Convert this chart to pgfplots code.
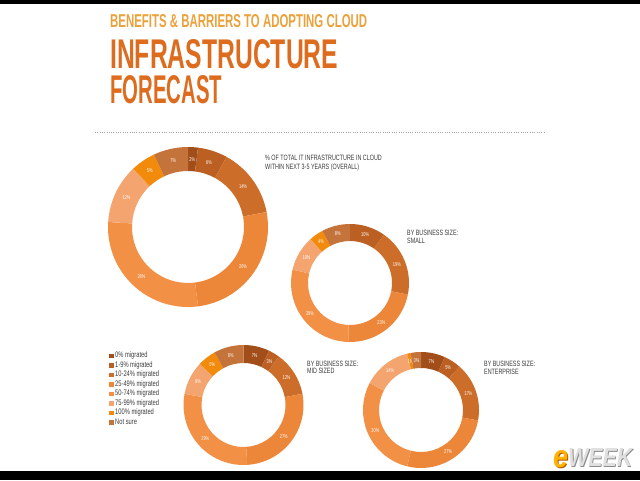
\documentclass[border=0pt]{standalone}
\usepackage{pgfplots}
\pgfplotsset{compat=1.18}
\usepackage{pgfplotstable}
\usepackage{graphicx}
\usepackage{fontspec}
\setmainfont{Liberation Sans}
\newfontfamily\cond[FakeStretch=0.7]{Liberation Sans}
\newfontfamily\condl[FakeStretch=0.72]{Liberation Sans}

\definecolor{c0}{HTML}{A24E1B}
\definecolor{c1}{HTML}{BB5F22}
\definecolor{c2}{HTML}{CC6D2A}
\definecolor{c3}{HTML}{EC873A}
\definecolor{c4}{HTML}{F29046}
\definecolor{c5}{HTML}{F4A56F}
\definecolor{c6}{HTML}{F28B0C}
\definecolor{c7}{HTML}{C4733A}
\definecolor{titleor}{HTML}{DD6C1E}
\definecolor{subor}{HTML}{ECA23C}
\definecolor{txtgray}{HTML}{3C3C3C}

% share of IT infrastructure in cloud, by category (rows) and group (columns)
\pgfplotstableread{
cat overall small mid ent
0   2       0     7   7
1   6       10    3   5
2   14      19    12  17
3   26      23    27  27
4   28      29    29  30
5   12      10    9   14
6   5       4     5   1
7   7       8     8   3
}\donutdata

% #1 column, #2 cx, #3 cy, #4 outer radius, #5 inner radius (1 unit = 1pt)
\newcommand\drawdonut[5]{%
  \gdef\dtot{0}%
  \pgfplotstableforeachcolumnelement{#1}\of\donutdata\as\v{%
    \pgfmathsetmacro\tmp{\dtot+\v}\xdef\dtot{\tmp}}%
  \pgfmathsetmacro\dscale{360/\dtot}\global\let\dscale\dscale
  \gdef\dcum{0}%
  \pgfplotstableforeachcolumnelement{#1}\of\donutdata\as\v{%
    \pgfmathsetmacro\da{90-\dscale*\dcum}%
    \pgfmathsetmacro\db{90-\dscale*(\dcum+\v)}%
    \pgfmathsetmacro\dm{(\da+\db)/2}%
    \pgfmathsetmacro\dmr{(#4+#5)/2}%
    \pgfmathsetmacro\xa{#2+#4*cos(\da)}\pgfmathsetmacro\ya{#3+#4*sin(\da)}%
    \pgfmathsetmacro\xb{#2+#5*cos(\db)}\pgfmathsetmacro\yb{#3+#5*sin(\db)}%
    \pgfmathsetmacro\xl{#2+\dmr*cos(\dm)}\pgfmathsetmacro\yl{#3+\dmr*sin(\dm)}%
    \edef\dcol{c\pgfplotstablerow}%
    \ifdim\v pt>0pt
      \fill[fill=\dcol] (axis cs:\xa,\ya) arc[start angle=\da,end angle=\db,radius=#4pt]
        -- (axis cs:\xb,\yb) arc[start angle=\db,end angle=\da,radius=#5pt] -- cycle;
      \node[text=white, inner sep=0pt, font=\cond\fontsize{5.6}{6}\selectfont] at (axis cs:\xl,\yl) {\v\%};
    \fi
    \pgfmathsetmacro\tmp{\dcum+\v}\xdef\dcum{\tmp}%
  }%
}

\begin{document}
\begin{tikzpicture}
\fill[white] (0,0) rectangle (640pt,480pt);
\fill[black] (0,0) rectangle (640pt,9pt);
\fill[black] (0,476pt) rectangle (640pt,480pt);
\begin{axis}[
  at={(0,0)}, anchor=south west,
  scale only axis, width=640pt, height=480pt,
  xmin=0, xmax=640, ymin=0, ymax=480,
  hide axis, clip=false,
  legend cell align=left,
  legend image code/.code={\fill[#1] (0pt,-2.2pt) rectangle (4.5pt,2.2pt);},
  legend style={draw=none, fill=none, inner sep=0pt,
    at={(109/640,129/480)}, anchor=north west,
    font=\condl\fontsize{8}{8}\selectfont, text=txtgray,
    nodes={inner sep=1.5pt, text height=5pt, text depth=1.5pt},
    row sep=0pt},
]
\addlegendimage{fill=c0, draw=none}\addlegendentry{0\% migrated}
\addlegendimage{fill=c1, draw=none}\addlegendentry{1-9\% migrated}
\addlegendimage{fill=c2, draw=none}\addlegendentry{10-24\% migrated}
\addlegendimage{fill=c3, draw=none}\addlegendentry{25-49\% migrated}
\addlegendimage{fill=c4, draw=none}\addlegendentry{50-74\% migrated}
\addlegendimage{fill=c5, draw=none}\addlegendentry{75-99\% migrated}
\addlegendimage{fill=c6, draw=none}\addlegendentry{100\% migrated}
\addlegendimage{fill=c7, draw=none}\addlegendentry{Not sure}

\pgfplotsextra{%
  \drawdonut{overall}{188}{253}{80}{56}%
  \drawdonut{small}{350}{197}{59}{42}%
  \drawdonut{mid}{243.5}{75}{60}{42}%
  \drawdonut{ent}{421}{70}{58}{42}%
}

% titles
\node[anchor=south west, inner sep=0pt, text=subor] at (axis cs:110,452)
  {\resizebox{257pt}{13pt}{\bfseries BENEFITS \& BARRIERS TO ADOPTING CLOUD}};
\node[anchor=south west, inner sep=0pt, text=titleor] at (axis cs:110,411)
  {\resizebox{228pt}{29pt}{\bfseries INFRASTRUCTURE}};
\node[anchor=south west, inner sep=0pt, text=titleor] at (axis cs:110,376)
  {\resizebox{112pt}{28pt}{\bfseries FORECAST}};
\draw[black!35, line width=0.7pt, dash pattern=on 0.7pt off 1.6pt] (axis cs:95,348) -- (axis cs:545,348);

% annotations
\begin{scope}[every node/.style={anchor=base west, inner sep=0pt, text=txtgray, font=\cond\fontsize{7.7}{8}\selectfont}]
\node at (axis cs:265,319.5) {\% OF TOTAL IT INFRASTRUCTURE IN CLOUD};
\node at (axis cs:265,310.7) {WITHIN NEXT 3-5 YEARS (OVERALL)};
\node at (axis cs:407,244) {BY BUSINESS SIZE:};
\node at (axis cs:407,236.5) {SMALL};
\node at (axis cs:307,114) {BY BUSINESS SIZE:};
\node at (axis cs:307,106.5) {MID SIZED};
\node at (axis cs:484,113.5) {BY BUSINESS SIZE:};
\node at (axis cs:484,106) {ENTERPRISE};
\end{scope}

% logo
\node[anchor=south west, inner sep=0pt, text=black!45] at (axis cs:568.8,12.2)
  {\resizebox{64pt}{18pt}{\bfseries\itshape WEEK}};
\node[anchor=south west, inner sep=0pt, text=black!12] at (axis cs:568,13)
  {\resizebox{64pt}{18pt}{\bfseries\itshape WEEK}};
\node[anchor=south west, inner sep=0pt, text=orange!70!black] at (axis cs:553.8,11.2)
  {\resizebox{15pt}{17pt}{\bfseries\itshape e}};
\node[anchor=south west, inner sep=0pt, text=orange!60!yellow] at (axis cs:553,12)
  {\resizebox{15pt}{17pt}{\bfseries\itshape e}};
\end{axis}
\end{tikzpicture}
\end{document}
